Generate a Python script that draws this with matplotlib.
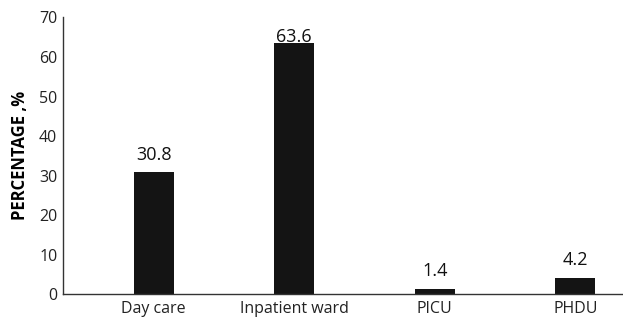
import matplotlib.pyplot as plt

categories = ['Day care', 'Inpatient ward', 'PICU', 'PHDU']
percentages = [30.8, 63.6, 1.4, 4.2]

plt.rcParams['font.family'] = ['Open Sans', 'DejaVu Sans']

fig = plt.figure(figsize=(6.23, 3.24), dpi=100)
ax = fig.add_axes([0.101, 0.092, 0.897, 0.854])

x = range(len(categories))
ax.bar(x, percentages, width=0.285, color='#141414')

# value labels, the tallest one sits right on its bar
for i, v in enumerate(percentages):
    off = -2.5 if v == max(percentages) else 6
    ax.annotate(f'{v}', (i, v), xytext=(0, off), textcoords='offset points',
                ha='center', va='bottom', fontsize=13, color='#111111')

ax.set_xlim(-0.645, 3.33)
ax.set_ylim(0, 70)
ax.set_yticks(range(0, 71, 10))
ax.set_xticks(list(x))
ax.set_xticklabels(categories)
ax.tick_params(length=0, labelsize=11.5, colors='#222222', pad=5)
ax.tick_params(axis='y', pad=4)

ax.set_ylabel('PERCENTAGE ,%', fontsize=12, fontweight='bold', labelpad=7)

for side in ['top', 'right']:
    ax.spines[side].set_visible(False)
for side in ['left', 'bottom']:
    ax.spines[side].set_color('#333333')
    ax.spines[side].set_linewidth(1.0)

fig.savefig('out.png', dpi=100)
